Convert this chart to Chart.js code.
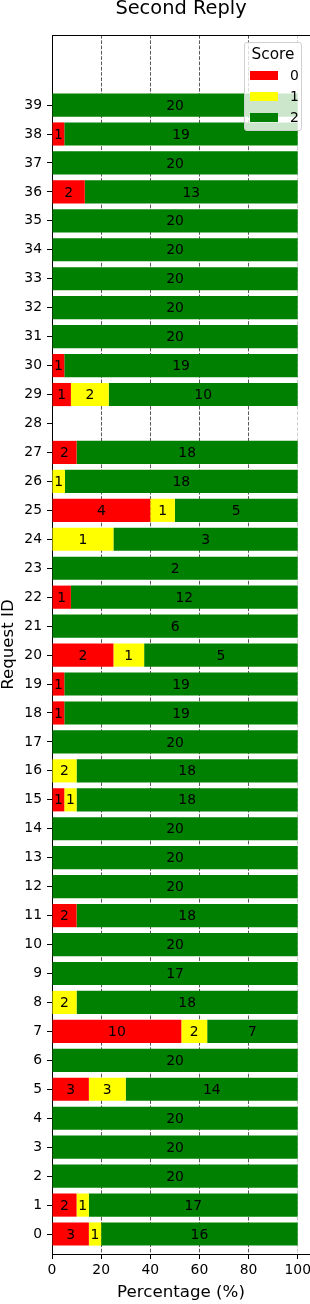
<!DOCTYPE html>
<html>
<head>
<meta charset="utf-8">
<script src="https://cdn.jsdelivr.net/npm/chart.js@4/dist/chart.umd.min.js"></script>
<style>
  html, body { margin: 0; padding: 0; background: #fff; }
  #wrap { position: relative; width: 310px; height: 1304px; overflow: hidden; font-family: 'DejaVu Sans', sans-serif; }
  #c { position: absolute; left: 0; top: 0; }
  #title { position: absolute; left: 52px; width: 258px; top: -3.5px; text-align: center; font-size: 19.4px; line-height: 22.6px; color: #000; white-space: nowrap; }
  #legend { position: absolute; left: 244px; top: 42px; width: 58px; height: 89px; box-sizing: border-box;
            border: 1px solid #d0d0d0; border-radius: 3px; background: rgba(255,255,255,0.8); }
  #legend .lt { position: absolute; left: 0; width: 56px; top: 2px; text-align: center; font-size: 15.3px; line-height: 18px; color: #000; }
  #legend .sw { position: absolute; left: 5px; width: 28px; height: 9px; }
  #legend .lb { position: absolute; left: 45px; font-size: 13.9px; line-height: 16px; color: #000; }
</style>
</head>
<body>
<div id="wrap">
  <canvas id="c" width="310" height="1304"></canvas>
  <div id="title">Second Reply</div>
  <div id="legend"></div>
</div>
<script>
// ---- data ----
const requestIds = [0,1,2,3,4,5,6,7,8,9,10,11,12,13,14,15,16,17,18,19,20,21,22,23,24,25,26,27,28,29,30,31,32,33,34,35,36,37,38,39];
const score0 = [3,2,0,0,0,3,0,10,0,0,0,2,0,0,0,1,0,0,1,1,2,0,1,0,0,4,0,2,0,1,1,0,0,0,0,0,2,0,1,0];
const score1 = [1,1,0,0,0,3,0,2,2,0,0,0,0,0,0,1,2,0,0,0,1,0,0,0,1,1,1,0,0,2,0,0,0,0,0,0,0,0,0,0];
const score2 = [16,17,20,20,20,14,20,7,18,17,20,18,20,20,20,18,18,20,19,19,5,6,12,2,3,5,18,18,0,10,19,20,20,20,20,20,13,20,19,20];
const scoreLabels = ['0', '1', '2'];
const scoreColors = ['#ff0000', '#ffff00', '#008000'];
const xTicks = [0, 20, 40, 60, 80, 100];
const chartTitle = 'Second Reply';
const xTitle = 'Percentage (%)';
const yTitle = 'Request ID';
const legendTitle = 'Score';

const countsBySeries = [score0, score1, score2];
const totals = requestIds.map((_, i) => score0[i] + score1[i] + score2[i]);

const datasets = countsBySeries.map((counts, s) => ({
  label: scoreLabels[s],
  backgroundColor: scoreColors[s],
  borderWidth: 0,
  barPercentage: 0.8,
  categoryPercentage: 1.0,
  counts: counts,
  data: requestIds.map((id, i) => ({ y: id, x: totals[i] > 0 ? counts[i] / totals[i] * 100 : null }))
}));

// HTML title & legend
document.getElementById('title').textContent = chartTitle;
const lg = document.getElementById('legend');
const lt = document.createElement('div'); lt.className = 'lt'; lt.textContent = legendTitle; lg.appendChild(lt);
const swTops = [28, 49, 70];
scoreLabels.forEach((lab, i) => {
  const sw = document.createElement('div'); sw.className = 'sw';
  sw.style.top = swTops[i] + 'px'; sw.style.background = scoreColors[i]; lg.appendChild(sw);
  const lb = document.createElement('div'); lb.className = 'lb';
  lb.style.top = (swTops[i] - 4) + 'px'; lb.textContent = lab; lg.appendChild(lb);
});

const FONT = "'DejaVu Sans', sans-serif";
Chart.defaults.font.family = FONT;
Chart.defaults.color = '#000';

const overlay = {
  id: 'overlay',
  afterDraw(chart) {
    const ctx = chart.ctx;
    const ca = chart.chartArea;
    // bar labels
    ctx.save();
    ctx.font = '13.9px ' + FONT;
    ctx.fillStyle = '#000';
    ctx.textAlign = 'center';
    ctx.textBaseline = 'middle';
    chart.data.datasets.forEach((ds, di) => {
      const meta = chart.getDatasetMeta(di);
      meta.data.forEach((el, i) => {
        const c = ds.counts[i];
        if (!c) return;
        const p = el.getCenterPoint();
        ctx.fillText(String(c), p.x, p.y + 1);
      });
    });
    // top spine
    ctx.strokeStyle = '#000';
    ctx.lineWidth = 1;
    ctx.beginPath();
    ctx.moveTo(ca.left, ca.top + 0.5);
    ctx.lineTo(ca.right, ca.top + 0.5);
    ctx.stroke();
    ctx.restore();
  }
};

new Chart(document.getElementById('c'), {
  type: 'bar',
  data: { datasets },
  options: {
    indexAxis: 'y',
    responsive: false,
    devicePixelRatio: 1,
    animation: false,
    layout: { autoPadding: false, padding: { top: 35, left: 0, right: 0, bottom: 0 } },
    plugins: { legend: { display: false }, tooltip: { enabled: false }, title: { display: false } },
    scales: {
      x: {
        type: 'linear',
        stacked: true,
        min: 0,
        max: 105,
        z: 1,
        afterBuildTicks: (s) => { s.ticks = xTicks.map(v => ({ value: v })); },
        afterFit: (s) => { s.height = 50; s.paddingLeft = 0; s.paddingRight = 0; },
        ticks: { font: { size: 13.9 }, padding: 3, maxRotation: 0, autoSkip: false, color: '#000' },
        grid: {
          drawOnChartArea: true,
          drawTicks: true,
          tickLength: 5,
          tickColor: '#000',
          tickWidth: 1,
          lineWidth: 1,
          color: (ctx) => {
            const v = ctx.tick ? ctx.tick.value : null;
            if (v === 0) return 'rgba(0,0,0,0)';
            if (v === 100) return '#cfcfcf';
            return '#5a5a5a';
          }
        },
        border: { display: true, color: '#000', width: 1, dash: [3.7, 1.6] },
        title: { display: true, text: xTitle, font: { size: 16.67, lineHeight: 1.2 }, padding: { top: 0, bottom: 1 }, color: '#000' }
      },
      y: {
        type: 'linear',
        stacked: true,
        offset: false,
        min: -0.69,
        max: 41.42,
        z: 1,
        afterBuildTicks: (s) => { s.ticks = requestIds.map(v => ({ value: v })); },
        afterFit: (s) => { s.width = 52; s.paddingTop = 0; s.paddingBottom = 0; },
        ticks: { font: { size: 13.9 }, padding: 5, autoSkip: false, color: '#000', callback: (v) => String(v) },
        grid: { drawOnChartArea: false, drawTicks: true, offset: false, tickLength: 5, tickColor: '#000', tickWidth: 1 },
        border: { display: true, color: '#000', width: 1 },
        title: { display: true, text: yTitle, font: { size: 16.67, lineHeight: 1 }, padding: { top: 0, bottom: 0 }, color: '#000' }
      }
    }
  },
  plugins: [overlay]
});
</script>
</body>
</html>
